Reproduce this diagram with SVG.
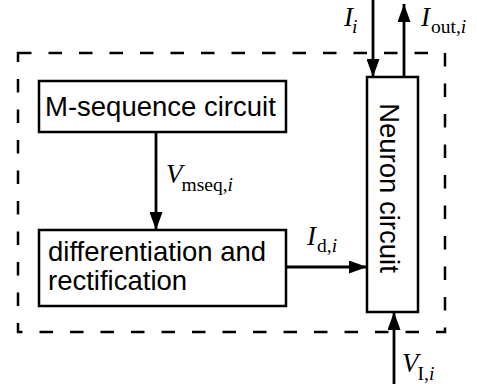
<svg xmlns="http://www.w3.org/2000/svg" width="477" height="384" viewBox="0 0 477 384">
<defs>
<marker id="ah" markerUnits="userSpaceOnUse" markerWidth="18" markerHeight="13" refX="18" refY="6.5" orient="auto">
<path d="M0,0 L18,6.5 L0,13 z" fill="#000"/>
</marker>
<style>
.box{fill:#fff;stroke:#000;stroke-width:2.5}
.lbl{font-family:"Liberation Sans",Arial,sans-serif;font-size:27.5px;fill:#000}
.m{font-family:"Liberation Serif","Times New Roman",serif;font-style:italic;font-size:27px;fill:#000}
.s{font-family:"Liberation Serif","Times New Roman",serif;font-style:normal;font-size:19.5px}
.si{font-family:"Liberation Serif","Times New Roman",serif;font-style:italic;font-size:19.5px}
.c{stroke:#000;stroke-width:2.8;fill:none;marker-end:url(#ah)}
</style>
</defs>
<rect x="18" y="53" width="427" height="279" fill="none" stroke="#000" stroke-width="2.5" stroke-dasharray="13.5 17"/>
<g id="mseq">
<rect class="box" x="39" y="81" width="247" height="51"/>
<text class="lbl" x="45" y="116">M-sequence circuit</text>
</g>
<g id="diff">
<rect class="box" x="39" y="230" width="247" height="76"/>
<text class="lbl" x="48" y="261">differentiation and</text>
<text class="lbl" x="48" y="290">rectification</text>
</g>
<g id="neuron">
<rect class="box" x="367" y="77" width="51" height="235"/>
<text class="lbl" transform="translate(380,188) rotate(90)" text-anchor="middle">Neuron circuit</text>
</g>
<g id="connectors">
<line class="c" x1="373" y1="0" x2="373" y2="77"/>
<line class="c" x1="404" y1="77" x2="404" y2="4"/>
<line class="c" x1="156" y1="132" x2="156" y2="230"/>
<line class="c" x1="286" y1="267" x2="367" y2="267"/>
<line class="c" x1="394" y1="384" x2="394" y2="312"/>
</g>
<g id="labels">
<text class="m" x="344" y="26">I<tspan class="si" dx="-1" dy="7">i</tspan></text>
<text class="m" x="421" y="26">I<tspan class="s" dx="1" dy="7">out,</tspan><tspan class="si">i</tspan></text>
<text class="m" x="166" y="183">V<tspan class="s" dx="-1" dy="8">mseq,</tspan><tspan class="si">i</tspan></text>
<text class="m" x="307" y="245">I<tspan class="s" dx="1" dy="7">d,</tspan><tspan class="si">i</tspan></text>
<text class="m" x="402" y="372">V<tspan class="s" dx="-1" dy="8">I,</tspan><tspan class="si">i</tspan></text>
</g>
</svg>
